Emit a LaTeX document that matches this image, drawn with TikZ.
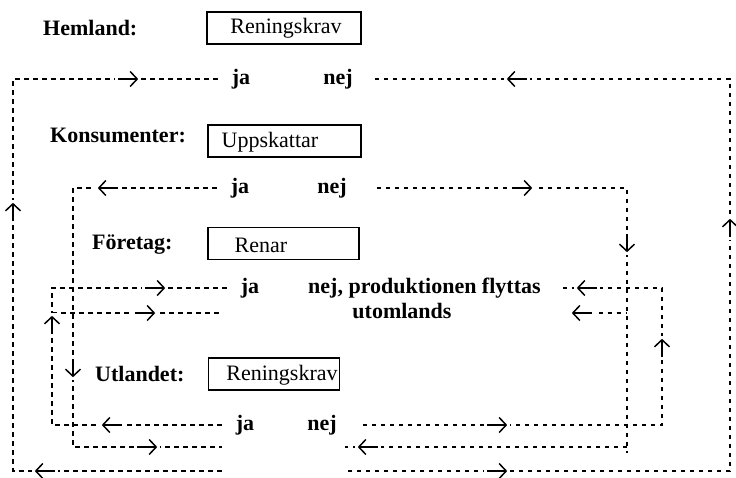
\documentclass[tikz,border=0pt]{standalone}
\usepackage{fontspec}
\usetikzlibrary{arrows.meta}
\setmainfont{Liberation Serif}
\begin{document}
\begin{tikzpicture}[x=1pt,y=-1pt,
  dl/.style={line width=2.1pt, dash pattern=on 4.5pt off 4.5pt},
  gap/.style={fill=white, inner sep=0pt, minimum width=26pt, minimum height=18pt},
  vgap/.style={fill=white, inner sep=0pt, minimum width=16pt, minimum height=24pt},
  arw/.style={line width=1.5pt, -{Straight Barb[length=7pt,width=15pt,line width=1.5pt]}, shorten <=3pt, shorten >=3pt},
  lab/.style={font=\fontsize{22}{24}\selectfont\bfseries, inner sep=0pt, anchor=west},
  rl/.style={font=\fontsize{22}{24}\selectfont\bfseries, inner sep=0pt, text height=10pt, text depth=0pt},
  box/.style={draw, line width=1.1pt, minimum height=32pt, inner sep=0pt},
  btxt/.style={font=\fontsize{22}{24}\selectfont, inner sep=0pt}]
\useasboundingbox[fill=white] (0,0) rectangle (736,477);

% labels and boxes
\node[lab] (hem) at (43,28) {Hemland:};
\node[box, minimum width=154pt] (b1) at (284,28) {};
\node[btxt] (t1) at (286,28) {Reningskrav};
\node[lab] (kon) at (50,135) {Konsumenter:};
\node[box, minimum width=153pt] (b2) at (284.5,141) {};
\node[btxt] (t2) at (270,142) {Uppskattar};
\node[lab] (for) at (92,245) {Företag:};
\node[box, minimum width=151pt] (b3) at (283.5,243.5) {};
\node[btxt] (t3) at (261,245) {Renar};
\node[lab] (utl) at (95,374) {Utlandet:};
\node[box, minimum width=131pt] (b4) at (274,374) {};
\node[btxt] (t4) at (282,375) {Reningskrav};

% row labels
\node[rl] (ja1) at (241,79) {ja};
\node[rl] (nej1) at (338,79) {nej};
\node[rl] (ja2) at (240,188) {ja};
\node[rl] (nej2) at (332,188) {nej};
\node[rl] (ja3) at (250,288) {ja};
\node[rl, anchor=west] (nej3) at (308,288) {nej, produktionen flyttas};
\node[rl] (utom) at (402,313) {utomlands};
\node[rl] (ja4) at (245,425) {ja};
\node[rl] (nej4) at (322,425) {nej};

% corner coordinates
\coordinate (tl) at (13,79);
\coordinate (tr) at (730,79);
\coordinate (bl) at (13,471);
\coordinate (br) at (730,471);
\coordinate (blend) at (222,471);
\coordinate (brend) at (345,471);
\coordinate (c2l) at (73,188);
\coordinate (c2lb) at (73,447);
\coordinate (c2lend) at (222,447);
\coordinate (c2r) at (627,188);
\coordinate (c2rb) at (627,447);
\coordinate (c2rend) at (345,447);
\coordinate (c2rlow) at (627,453);
\coordinate (c3l) at (52,288);
\coordinate (c3lb) at (52,425);
\coordinate (c3r) at (662,288);
\coordinate (c3rb) at (662,425);
\coordinate (u3l) at (52,313);
\coordinate (u3lend) at (222,313);
\coordinate (u3r) at (627,313);

% dashed connectors
\draw[dl] ([xshift=-14pt]ja1.west) -- (tl) -- (bl) -- (blend);
\draw[dl] ([xshift=22pt]nej1.east) -- (tr) -- (br) -- (brend);
\draw[dl] ([xshift=-14pt]ja2.west) -- (c2l) -- (c2lb) -- (c2lend);
\draw[dl] ([xshift=30pt]nej2.east) -- (c2r) -- (c2rlow);
\draw[dl] (c2rb) -- (c2rend);
\draw[dl] ([xshift=-14pt]ja3.west) -- (c3l) -- (c3lb) -- ([xshift=-14pt]ja4.west);
\draw[dl] ([xshift=22pt]nej3.east) -- (c3r) -- (c3rb) -- ([xshift=26pt]nej4.east);
\draw[dl] (u3l) -- (u3lend);
\draw[dl] ([xshift=120pt]utom.east) -- (u3r);

% arrows: white gaps, then arrows drawn across them
\node[gap] (a1) at (128,79) {};   \draw[arw] (a1.west) -- (a1.east);
\node[gap] (a2) at (517,79) {};   \draw[arw] (a2.east) -- (a2.west);
\node[vgap] (a3) at (13,212) {};  \draw[arw] (a3.south) -- (a3.north);
\node[vgap] (a4) at (730,228) {}; \draw[arw] (a4.south) -- (a4.north);
\node[gap] (a5) at (45,471) {};   \draw[arw] (a5.east) -- (a5.west);
\node[gap] (a6) at (497,471) {};  \draw[arw] (a6.west) -- (a6.east);
\node[gap] (a7) at (108,188) {};  \draw[arw] (a7.east) -- (a7.west);
\node[gap] (a8) at (522,188) {};  \draw[arw] (a8.west) -- (a8.east);
\node[vgap] (a9) at (627,243) {}; \draw[arw] (a9.north) -- (a9.south);
\node[vgap] (a10) at (73,368) {}; \draw[arw] (a10.north) -- (a10.south);
\node[gap] (a11) at (147,447) {}; \draw[arw] (a11.west) -- (a11.east);
\node[gap] (a12) at (368,447) {}; \draw[arw] (a12.east) -- (a12.west);
\node[gap] (a13) at (155,288) {}; \draw[arw] (a13.west) -- (a13.east);
\node[gap] (a14) at (587,288) {}; \draw[arw] (a14.east) -- (a14.west);
\node[vgap] (a15) at (52,325) {}; \draw[arw] (a15.south) -- (a15.north);
\node[gap] (a16) at (112,425) {}; \draw[arw] (a16.east) -- (a16.west);
\node[vgap] (a17) at (662,348) {}; \draw[arw] (a17.south) -- (a17.north);
\node[gap] (a18) at (497,425) {}; \draw[arw] (a18.west) -- (a18.east);
\node[gap] (a19) at (145,313) {}; \draw[arw] (a19.west) -- (a19.east);
\node[gap] (a20) at (582,313) {}; \draw[arw] (a20.east) -- (a20.west);
\end{tikzpicture}
\end{document}
